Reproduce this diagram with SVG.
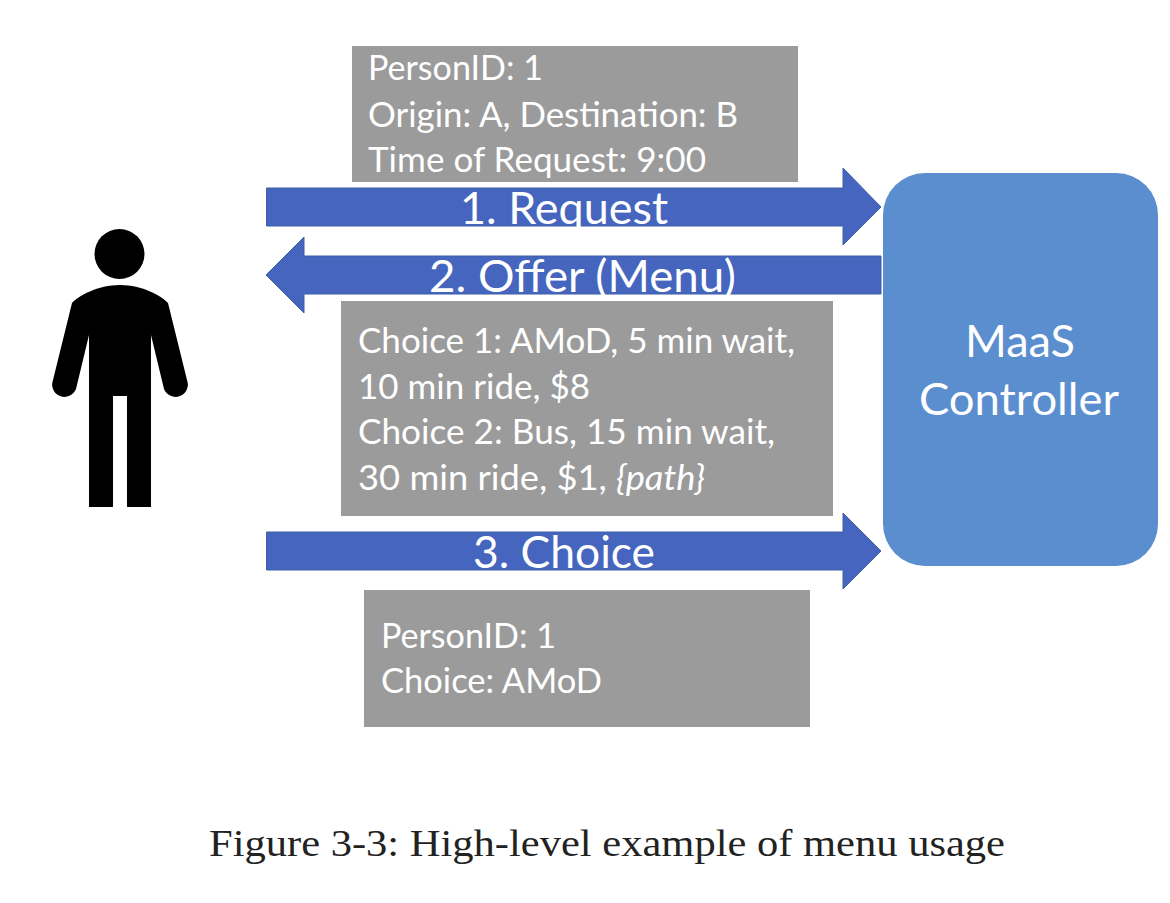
<svg xmlns="http://www.w3.org/2000/svg" width="1170" height="903" viewBox="0 0 1170 903">
<style>
.box{fill:#9b9b9b}
.arrow{fill:#4565bf;stroke:#3f5ea8;stroke-width:1}
.t{font-family:"Lato","Open Sans",sans-serif;font-size:34px;fill:#fff}
.l{font-family:"Lato","Open Sans",sans-serif;font-size:44px;fill:#fff}
.cap{font-family:"Liberation Serif",serif;font-size:38px;fill:#222}
</style>
<rect width="1170" height="903" fill="#fff"/>
<g id="person" fill="#000">
<circle cx="119.500" cy="254" r="25"/>
<path d="M72 303C78 296 98 285 120 285C142 285 162 296 168 303L187 380A12 12 0 0 1 164 389L151 335V507H127V396H113V507H89V335L76 389A12 12 0 0 1 53 380Z"/>
</g>
<g id="controller">
<rect x="883" y="173" width="275" height="393" rx="42" fill="#5b8ecf"/>
<text class="l" x="965" y="357" textLength="110" lengthAdjust="spacingAndGlyphs">MaaS</text>
<text class="l" x="919" y="415" textLength="200" lengthAdjust="spacingAndGlyphs">Controller</text>
</g>
<g id="request-info">
<rect class="box" x="352" y="46" width="446" height="136"/>
<text class="t" x="368" y="80" textLength="175" lengthAdjust="spacingAndGlyphs">PersonID: 1</text>
<text class="t" x="368" y="127" textLength="370" lengthAdjust="spacingAndGlyphs">Origin: A, Destination: B</text>
<text class="t" x="368" y="172" textLength="338" lengthAdjust="spacingAndGlyphs">Time of Request: 9:00</text>
</g>
<g id="offer-info">
<rect class="box" x="341" y="301" width="492" height="215"/>
<text class="t" x="358" y="353" textLength="437" lengthAdjust="spacingAndGlyphs">Choice 1: AMoD, 5 min wait,</text>
<text class="t" x="358" y="399" textLength="232" lengthAdjust="spacingAndGlyphs">10 min ride, $8</text>
<text class="t" x="358" y="444" textLength="417" lengthAdjust="spacingAndGlyphs">Choice 2: Bus, 15 min wait,</text>
<text class="t" x="358" y="490" textLength="347" lengthAdjust="spacingAndGlyphs">30 min ride, $1, <tspan font-style="italic">{path}</tspan></text>
</g>
<g id="choice-info">
<rect class="box" x="364" y="590" width="446" height="137"/>
<text class="t" x="381" y="648" textLength="175" lengthAdjust="spacingAndGlyphs">PersonID: 1</text>
<text class="t" x="381" y="693" textLength="221" lengthAdjust="spacingAndGlyphs">Choice: AMoD</text>
</g>
<g id="connectors">
<path class="arrow" d="M266.500 188H843V168L881 207L843 245V226H266.500Z"/>
<path class="arrow" d="M881 256H304V237L266 275L304 313V294H881Z"/>
<path class="arrow" d="M266.500 532H843V513L881 551L843 589V570H266.500Z"/>
</g>
<g id="arrow-labels">
<text class="l" x="460" y="224" textLength="208" lengthAdjust="spacingAndGlyphs">1. Request</text>
<text class="l" x="429" y="292" textLength="307" lengthAdjust="spacingAndGlyphs">2. Offer (Menu)</text>
<text class="l" x="473" y="568" textLength="182" lengthAdjust="spacingAndGlyphs">3. Choice</text>
</g>
<text class="cap" x="209" y="856" textLength="796" lengthAdjust="spacingAndGlyphs">Figure 3-3: High-level example of menu usage</text>
</svg>
